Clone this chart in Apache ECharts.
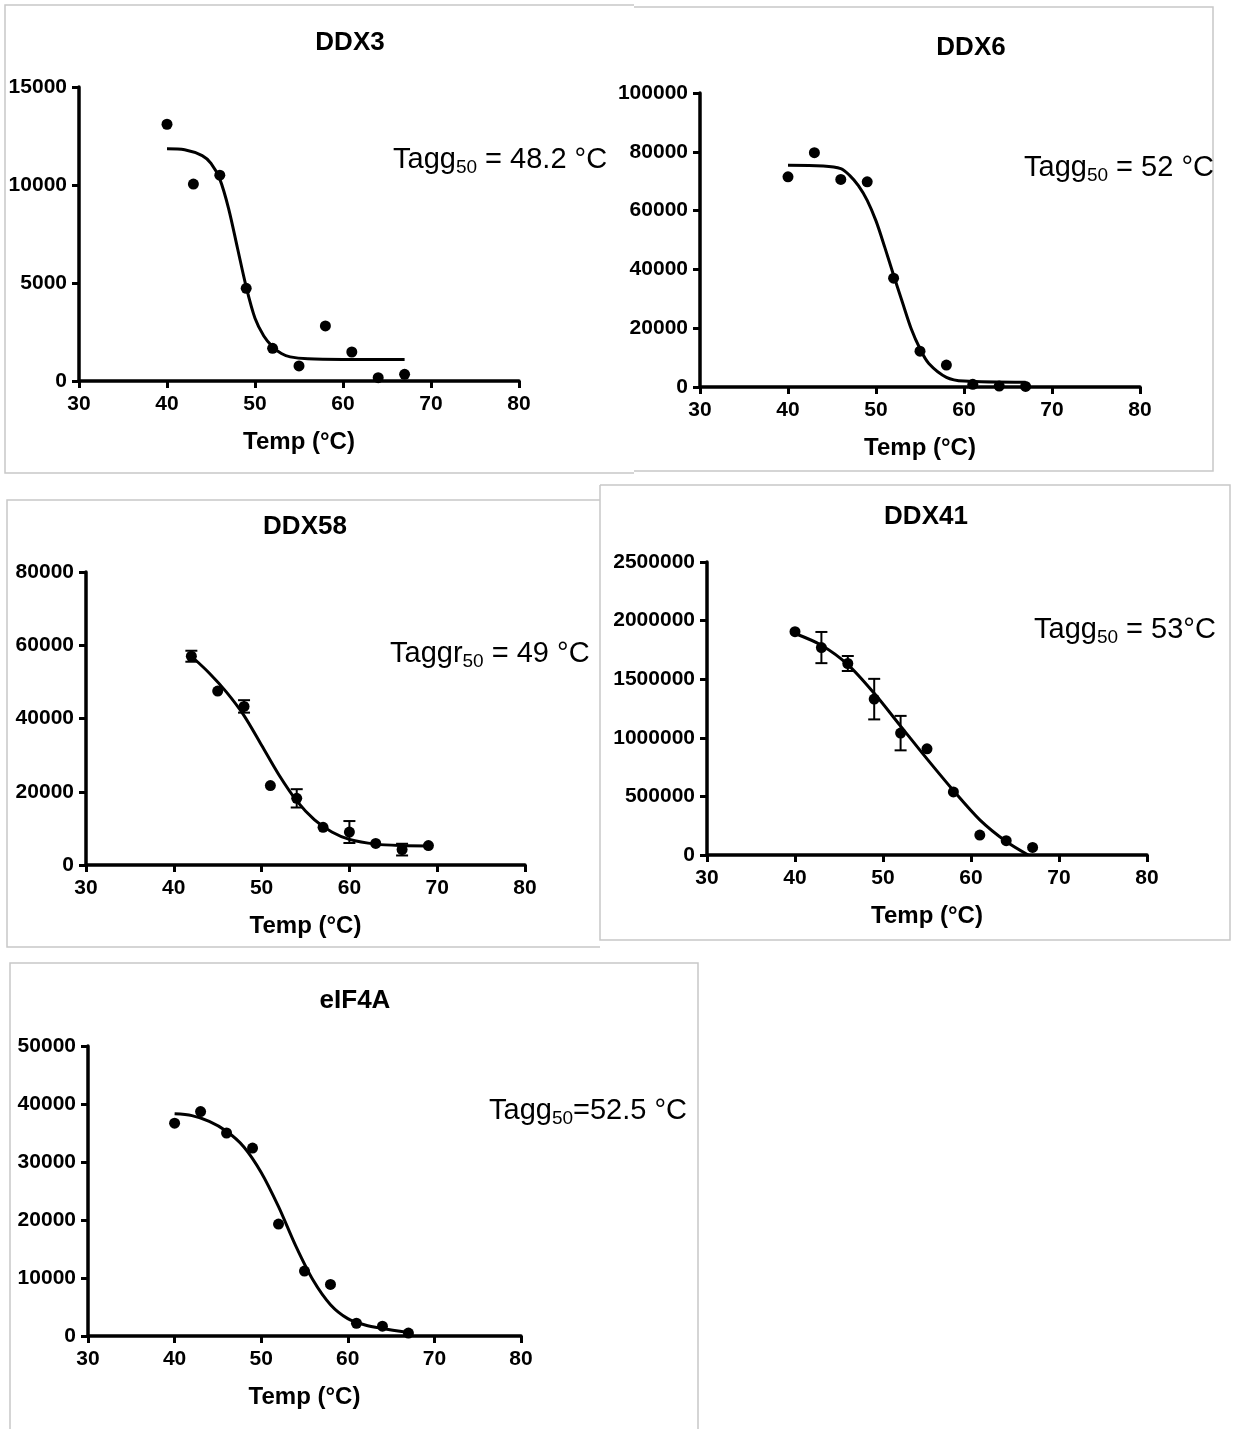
<!DOCTYPE html>
<html>
<head>
<meta charset="utf-8">
<title>Tagg50 melting curves</title>
<script src="https://cdn.jsdelivr.net/npm/echarts@6/dist/echarts.min.js"></script>
<style>
  html, body { margin: 0; padding: 0; background: #fff; }
  #main { width: 1233px; height: 1429px; }
</style>
</head>
<body>
<div id="main"></div>
<script type="text/javascript">
// measured points (temperature, signal)
var temps = [40, 43, 46, 49, 52, 55, 58, 61, 64, 67];
var temps58 = [42, 45, 48, 51, 54, 57, 60, 63, 66, 69];

var ddx3Values = [13100, 10050, 10500, 4730, 1670, 770, 2810, 1480, 170, 340];
var ddx6Values = [71500, 79700, 70600, 69800, 37000, 12200, 7450, 900, 300, 200];
var ddx58Values = [57000, 47500, 43300, 21700, 18200, 10300, 9000, 5900, 4200, 5300];
var ddx58Errors = [1500, 0, 1700, 0, 2500, 0, 3000, 0, 1600, 0];
var ddx41Values = [1905000, 1770000, 1634000, 1330000, 1040000, 906000, 538000, 170000, 122000, 65000];
var ddx41Errors = [0, 133000, 64000, 173000, 147000, 0, 0, 0, 0, 0];
var eif4aValues = [36700, 38700, 35000, 32400, 19300, 11200, 8900, 2200, 1700, 500];

// fitted curves
var ddx3CurveT = [40, 42, 44, 45, 46, 47, 48, 49, 50, 51, 52, 53, 54, 56, 60, 67];
var ddx3CurveV = [11850, 11800, 11500, 11100, 10300, 8800, 6800, 4800, 3200, 2300, 1750, 1400, 1230, 1130, 1100, 1100];
var ddx6CurveT = [40, 44, 46, 47, 48, 49, 50, 51, 52, 53, 54, 55, 56, 58, 60, 67];
var ddx6CurveV = [75400, 75200, 74300, 72000, 68500, 63500, 56500, 47500, 38000, 28800, 19800, 13000, 8000, 3300, 2000, 1600];
var ddx58CurveT = [42, 44, 46, 48, 50, 52, 54, 56, 58, 60, 63, 66, 69];
var ddx58CurveV = [57000, 52500, 47200, 40800, 32700, 24500, 17500, 12400, 9000, 7000, 5700, 5300, 5200];
var ddx41CurveT = [40, 43, 46, 49, 52, 55, 58, 61, 64, 66.5];
var ddx41CurveV = [1890000, 1790000, 1625000, 1380000, 1100000, 820000, 550000, 300000, 115000, 0];
var eif4aCurveT = [40, 42, 44, 46, 48, 50, 52, 54, 56, 58, 60, 62, 64, 67];
var eif4aCurveV = [38300, 38000, 37000, 35300, 32600, 28200, 22300, 15500, 9600, 5400, 3000, 1900, 1300, 600];

var titles = ['DDX3', 'DDX6', 'DDX58', 'DDX41', 'eIF4A'];
var yMax = [15000, 100000, 80000, 2500000, 50000];
var yStep = [5000, 20000, 20000, 500000, 10000];

var FONT = '"Liberation Sans", Arial, Helvetica, sans-serif';

function pairs(xs, ys) {
    return xs.map(function (x, i) { return [x, ys[i]]; });
}
function triples(xs, ys, es) {
    return xs.map(function (x, i) { return [x, ys[i], es[i]]; });
}

var panels = [
    { grid: { left: 79, top: 87, width: 440, height: 294 },
      pts: pairs(temps, ddx3Values), curve: pairs(ddx3CurveT, ddx3CurveV), err: null,
      title: [350, 43], note: [393, 160], label: 'Tagg', tail: ' = 48.2 °C' },
    { grid: { left: 700, top: 93, width: 440, height: 294 },
      pts: pairs(temps, ddx6Values), curve: pairs(ddx6CurveT, ddx6CurveV), err: null,
      title: [971, 48], note: [1024, 168], label: 'Tagg', tail: ' = 52 °C' },
    { grid: { left: 86, top: 572, width: 439, height: 293 },
      pts: pairs(temps58, ddx58Values), curve: pairs(ddx58CurveT, ddx58CurveV),
      err: triples(temps58, ddx58Values, ddx58Errors),
      title: [305, 527], note: [390, 654], label: 'Taggr', tail: ' = 49 °C' },
    { grid: { left: 707, top: 562, width: 440, height: 293 },
      pts: pairs(temps, ddx41Values), curve: pairs(ddx41CurveT, ddx41CurveV),
      err: triples(temps, ddx41Values, ddx41Errors),
      title: [926, 517], note: [1034, 630], label: 'Tagg', tail: ' = 53°C' },
    { grid: { left: 88, top: 1046, width: 433, height: 290 },
      pts: pairs(temps, eif4aValues), curve: pairs(eif4aCurveT, eif4aCurveV), err: null,
      title: [355, 1001], note: [489, 1111], label: 'Tagg', tail: '=52.5 °C' }
];

var grids = [], xAxes = [], yAxes = [], series = [], graphics = [];

// panel frames (light grey boxes)
var frameStyle = { stroke: '#c8c8c8', lineWidth: 1.5, fill: null };
[
    [[634, 5], [5, 5], [5, 473], [634, 473]],
    [[634, 7], [1213, 7], [1213, 471], [634, 471]],
    [[600, 500], [7, 500], [7, 947], [600, 947]],
    [[600, 485], [1230, 485], [1230, 940], [600, 940], [600, 485]],
    [[10, 1432], [10, 963], [698, 963], [698, 1432]]
].forEach(function (pts) {
    graphics.push({ type: 'polyline', shape: { points: pts }, style: frameStyle, silent: true });
});

function errorBars(params, api) {
    var x = api.value(0), y = api.value(1), e = api.value(2);
    if (!e) return;
    var hi = api.coord([x, y + e]);
    var lo = api.coord([x, y - e]);
    var s = { stroke: '#000', lineWidth: 2 };
    return {
        type: 'group',
        children: [
            { type: 'line', shape: { x1: hi[0], y1: hi[1], x2: lo[0], y2: lo[1] }, style: s },
            { type: 'line', shape: { x1: hi[0] - 6, y1: hi[1], x2: hi[0] + 6, y2: hi[1] }, style: s },
            { type: 'line', shape: { x1: lo[0] - 6, y1: lo[1], x2: lo[0] + 6, y2: lo[1] }, style: s }
        ]
    };
}

panels.forEach(function (p, i) {
    grids.push(p.grid);
    xAxes.push({
        gridIndex: i, type: 'value', min: 30, max: 80, interval: 10,
        name: 'Temp (°C)', nameLocation: 'middle', nameGap: 49,
        nameTextStyle: { fontFamily: FONT, fontWeight: 'bold', fontSize: 24, color: '#000' },
        splitLine: { show: false },
        axisLine: { onZero: false, lineStyle: { color: '#000', width: 3.5 } },
        axisTick: { inside: false, length: 7, lineStyle: { color: '#000', width: 3 } },
        axisLabel: { margin: 13, fontFamily: FONT, fontWeight: 'bold', fontSize: 21, color: '#000' }
    });
    yAxes.push({
        gridIndex: i, type: 'value', min: 0, max: yMax[i], interval: yStep[i],
        splitLine: { show: false },
        axisLine: { show: true, onZero: false, lineStyle: { color: '#000', width: 3.5 } },
        axisTick: { show: true, inside: false, length: 7, lineStyle: { color: '#000', width: 3 } },
        axisLabel: { margin: 12, fontFamily: FONT, fontWeight: 'bold', fontSize: 21, color: '#000',
                     formatter: function (v) { return String(v); } }
    });
    series.push({
        type: 'line', xAxisIndex: i, yAxisIndex: i, data: p.curve,
        smooth: 0.3, showSymbol: false, symbol: 'none',
        lineStyle: { color: '#000', width: 3 }, z: 2, silent: true
    });
    if (p.err) {
        series.push({
            type: 'custom', xAxisIndex: i, yAxisIndex: i, data: p.err,
            encode: { x: 0, y: 1 }, renderItem: errorBars, z: 3, silent: true
        });
    }
    series.push({
        type: 'scatter', xAxisIndex: i, yAxisIndex: i, data: p.pts,
        symbol: 'circle', symbolSize: 11, itemStyle: { color: '#000', opacity: 1 }, z: 4, silent: true
    });
    graphics.push({
        type: 'text', x: p.title[0], y: p.title[1], silent: true,
        style: { text: titles[i], align: 'center', verticalAlign: 'middle',
                 font: 'bold 26px ' + FONT, fill: '#000' }
    });
    graphics.push({
        type: 'text', x: p.note[0], y: p.note[1], silent: true,
        style: {
            text: '{m|' + p.label + '}{s|50}{m|' + p.tail + '}',
            align: 'left', verticalAlign: 'middle',
            rich: {
                m: { fontFamily: FONT, fontSize: 29, lineHeight: 34, color: '#222' },
                s: { fontFamily: FONT, fontSize: 19, lineHeight: 19, padding: [16, 0, 0, 0], color: '#222' }
            }
        }
    });
});

var myChart = echarts.init(document.getElementById('main'), null, { renderer: 'canvas' });
myChart.setOption({
    backgroundColor: '#fff',
    animation: false,
    grid: grids,
    xAxis: xAxes,
    yAxis: yAxes,
    series: series,
    graphic: graphics
});
</script>
</body>
</html>
